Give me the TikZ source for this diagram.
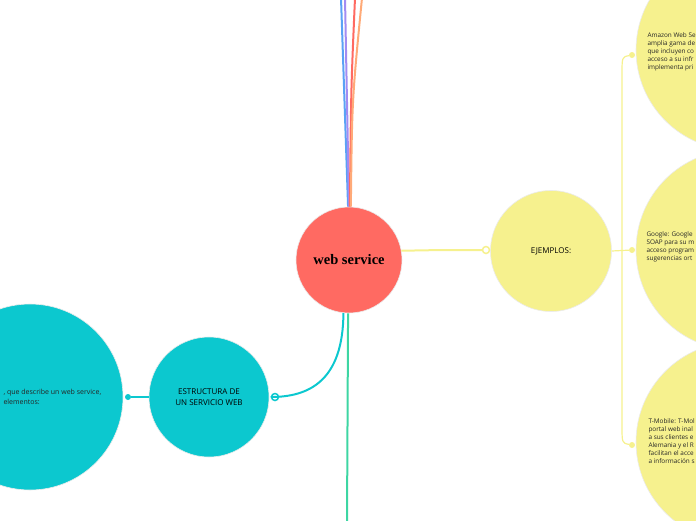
\documentclass[tikz,border=0pt]{standalone}
\usepackage{fontspec}
\setmainfont{Open Sans}
\newfontfamily\titlefont{Liberation Serif}

\definecolor{wsred}{HTML}{FF6A62}
\definecolor{wsyellow}{HTML}{F6F18E}
\definecolor{wscyan}{HTML}{0CC8CF}
\definecolor{wsgreen}{HTML}{3DD6A3}
\definecolor{wsblue}{HTML}{5AA2F5}
\definecolor{wspurple}{HTML}{A28CF2}
\definecolor{wsorange}{HTML}{FFAA78}

\begin{document}
\begin{tikzpicture}[x=1pt,y=-1pt,
    bubble/.style={circle,draw=black!8,line width=0.6pt,inner sep=0pt},
    small/.style={font=\fontsize{6.4}{8}\selectfont,align=left,anchor=west,text=black!85},
    dot/.style={circle,fill=#1,inner sep=0pt,minimum size=6pt},
    ring/.style={circle,draw=#1,fill=white,line width=1.5pt,inner sep=0pt,minimum size=7pt}]
    \useasboundingbox (0,0) rectangle (696,520);
    \clip (0,0) rectangle (696,520);

    % circles
    \node[bubble,fill=wsred,minimum size=106pt] (ws) at (349,260) {\titlefont\bfseries\fontsize{14.5}{16}\selectfont web service};
    \node[bubble,fill=wsyellow,minimum size=121pt,font=\fontsize{8}{10}\selectfont] (ej) at (551,251) {EJEMPLOS:};
    \node[bubble,fill=wscyan,minimum size=120pt,align=center,font=\fontsize{8}{11}\selectfont] (es) at (209,397) {ESTRUCTURA DE\\UN SERVICIO WEB};
    \node[bubble,fill=wscyan,minimum size=186pt] (wsdl) at (30,397) {};
    \node[bubble,fill=wsyellow,minimum size=200pt] (amz) at (736,50) {};
    \node[bubble,fill=wsyellow,minimum size=200pt] (ggl) at (736,250) {};
    \node[bubble,fill=wsyellow,minimum size=200pt] (tmb) at (736,442) {};

    % texts cut by the edge
    \node[small] (amztxt) at (644,52) {Amazon Web Se\\amplia gama de\\que incluyen co\\acceso a su infr\\implementa pri};
    \node[small] (ggltxt) at (643,247) {Google: Google\\SOAP para su m\\acceso program\\sugerencias ort};
    \node[small] (tmbtxt) at (645,441) {T-Mobile: T-Mol\\portal web inal\\a sus clientes e\\Alemania y el R\\facilitan el acce\\a informaci\'on s};
    \node[small,font=\fontsize{7}{10}\selectfont] (wsdltxt) at (0,397) {, que describe un web service,\\elementos:};

    % connector ends
    \node[ring=wsyellow] (ejring) at (486,250) {};
    \node[ring=wscyan] (esring) at (275,397) {};
    \node[dot=wscyan] (wsdldot) at (128,397) {};
    \node[dot=wsyellow] (amzdot) at (632,55) {};
    \node[dot=wsyellow] (ggldot) at (632,250) {};
    \node[dot=wsyellow] (tmbdot) at (632,445) {};
    \coordinate (fork) at (622,250);
    \coordinate (upblue) at (341,-2);
    \coordinate (uppurple) at (345,-2);
    \coordinate (upred) at (355,-2);
    \coordinate (uporange) at (362,-2);
    \coordinate (down) at (347,524);

    % connectors
    \draw[wsyellow,line width=2pt] (ws.10) .. controls (440,250) .. (ejring.west);
    \draw[wscyan,line width=2pt] (ws.-96) .. controls (343,380) and (310,397) .. (esring.west);
    \draw[wscyan,line width=1.5pt] (es.west) -- (wsdldot);
    \draw[wsgreen,line width=2pt] (ws.-91) -- (down);
    \draw[wsblue,line width=2pt] (ws.91) -- (upblue);
    \draw[wspurple,line width=2pt] (ws.90) -- (uppurple);
    \draw[wsred,line width=2pt] (ws.89) .. controls (351,90) .. (upred);
    \draw[wsorange,line width=2pt] (ws.88) .. controls (352,100) .. (uporange);
    \draw[wsyellow,line width=1.2pt] (ej.east) -- (ggldot);
    \draw[wsyellow,line width=1.2pt] (fork) -- (622,75) .. controls (622,57) .. (amzdot);
    \draw[wsyellow,line width=1.2pt] (fork) -- (622,425) .. controls (622,443) .. (tmbdot);
\end{tikzpicture}
\end{document}
